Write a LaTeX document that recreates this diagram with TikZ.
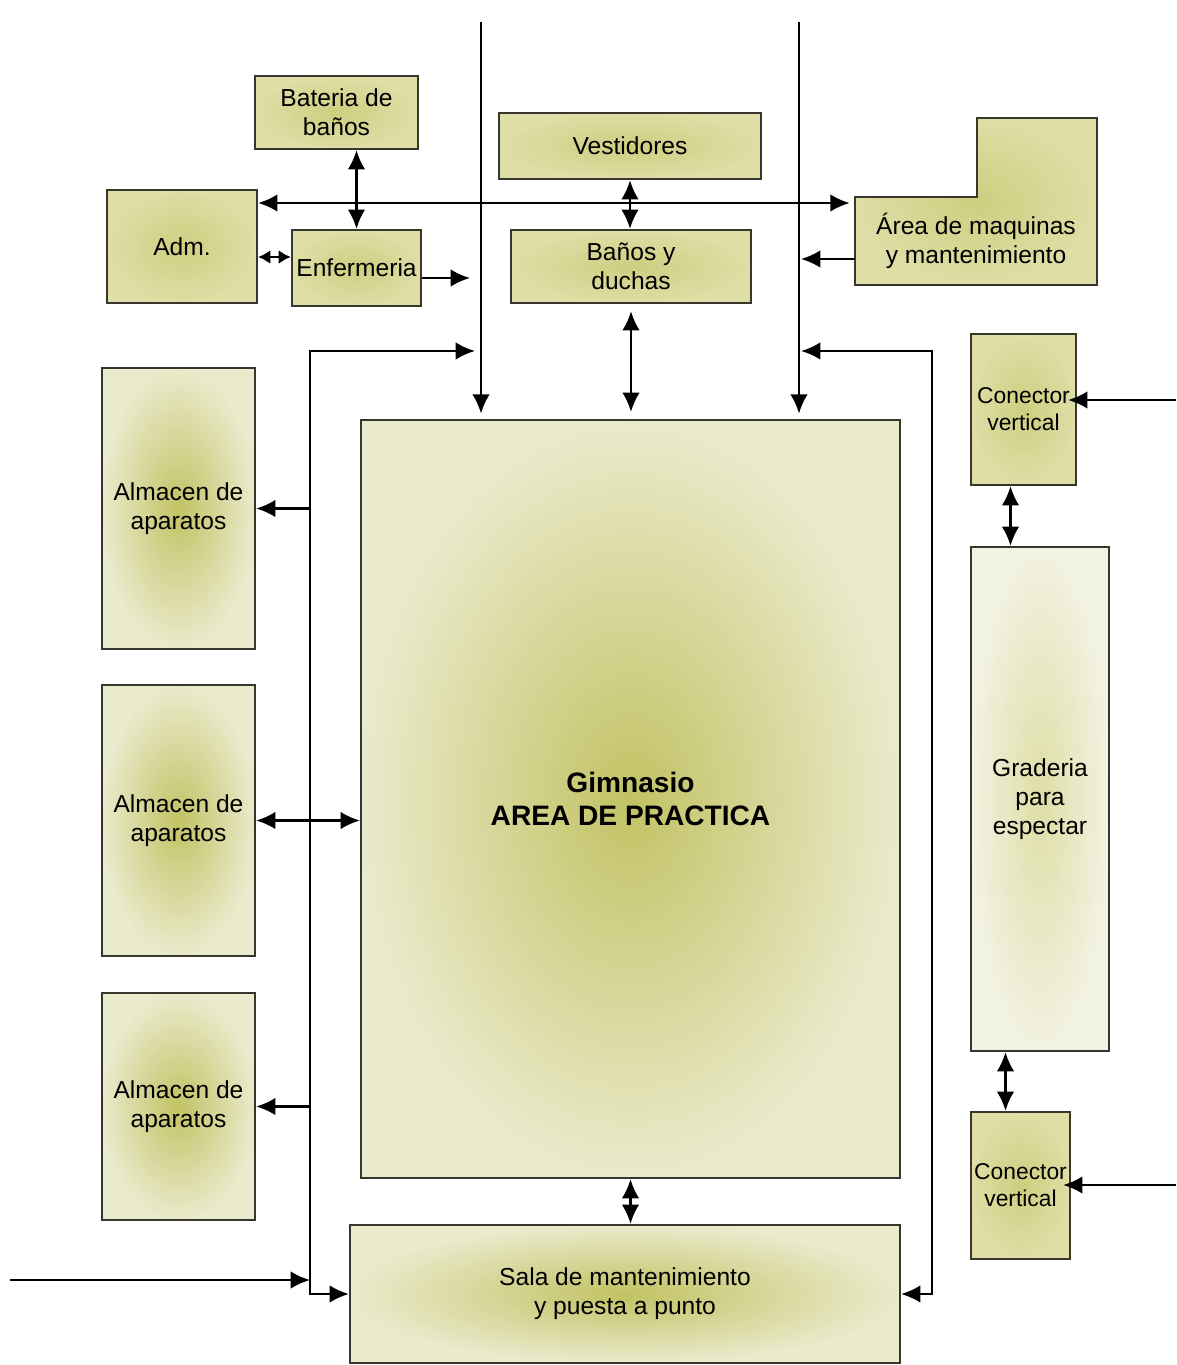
\documentclass[tikz,border=0pt]{standalone}
\usepackage{fontspec}
\setmainfont{Liberation Sans}
\definecolor{olvdark}{RGB}{194,194,100}
\definecolor{olvmid}{RGB}{206,206,128}
\definecolor{olvlight}{RGB}{222,222,166}
\definecolor{olvpale}{RGB}{234,234,204}
\definecolor{gradpale}{RGB}{242,242,226}
\definecolor{roomedge}{RGB}{55,55,45}
\usetikzlibrary{arrows.meta,calc}

\begin{document}
\begin{tikzpicture}[x=0.02cm,y=-0.02cm,
  room/.style={draw=roomedge, line width=1.3pt, inner sep=1pt, align=center,
    font=\fontsize{14}{16.5}\selectfont, shading=radial, inner color=olvdark, outer color=olvpale},
  smallroom/.style={inner color=olvmid, outer color=olvlight},
  arr/.style={-{Latex[length=11pt,width=10pt]}, line width=1.4pt},
  dbl/.style={{Latex[length=11pt,width=10pt]}-{Latex[length=11pt,width=10pt]}, line width=1.4pt},
  dblshort/.style={{Latex[length=7pt,width=8pt]}-{Latex[length=7pt,width=8pt]}, line width=1.4pt}]
  \useasboundingbox (0,0) rectangle (1176,1365);
  % Top rooms
  \node[room, smallroom, minimum width=3.26cm, minimum height=1.46cm] (bat) at (336.5,112.5) {Bateria de\\baños};
  \node[room, smallroom, minimum width=3.0cm, minimum height=2.26cm] (adm) at (182,246.5) {Adm.};
  \node[room, smallroom, minimum width=2.58cm, minimum height=1.52cm] (enf) at (356.5,268) {Enfermeria};
  \node[room, smallroom, minimum width=5.24cm, minimum height=1.32cm] (vest) at (630,146) {Vestidores};
  \node[room, smallroom, minimum width=4.8cm, minimum height=1.46cm] (banos) at (631,266.5) {Baños y\\duchas};
  % Area de maquinas (L shape)
  \draw[room, smallroom] (855,197) -- (977,197) -- (977,118) -- (1097,118) -- (1097,285) -- (855,285) -- cycle;
  \node[font=\fontsize{14}{16.5}\selectfont, align=center, minimum width=4.84cm, minimum height=1.76cm] (maq) at (976,241) {Área de maquinas\\y mantenimiento};
  % Left storage rooms
  \node[room, minimum width=3.06cm, minimum height=5.62cm] (alm1) at (178.5,508.5) {Almacen de\\aparatos};
  \node[room, minimum width=3.06cm, minimum height=5.42cm] (alm2) at (178.5,820.5) {Almacen de\\aparatos};
  \node[room, minimum width=3.06cm, minimum height=4.54cm] (alm3) at (178.5,1106.5) {Almacen de\\aparatos};
  % Main area
  \node[room, minimum width=10.78cm, minimum height=15.16cm, font=\fontsize{16}{19}\selectfont\bfseries] (gym) at (630.5,799) {Gimnasio\\AREA DE PRACTICA};
  \node[room, minimum width=11.0cm, minimum height=2.76cm] (sala) at (625,1294) {Sala de mantenimiento\\y puesta a punto};
  % Right side
  \node[room, smallroom, minimum width=2.1cm, minimum height=3.02cm, font=\fontsize{13}{15.5}\selectfont] (con1) at (1023.5,409.5) {Conector\\vertical};
  \node[room, inner color=olvlight, outer color=gradpale, minimum width=2.76cm, minimum height=10.08cm] (grad) at (1040,799) {Graderia\\para\\espectar};
  \node[room, smallroom, minimum width=1.98cm, minimum height=2.94cm, font=\fontsize{13}{15.5}\selectfont] (con2) at (1020.5,1185.5) {Conector\\vertical};
  % Free ends
  \coordinate (vlt) at (481,22);
  \coordinate (vrt) at (799,22);
  \coordinate (lp) at (310,351);
  \coordinate (rp) at (932,351);
  \coordinate (inl) at (10,1280);
  \coordinate (inr1) at (1176,400);
  \coordinate (inr2) at (1176,1185);
  % Corridors
  \draw[arr, shorten >=3pt] (vlt) -- (vlt |- gym.north);
  \draw[arr, shorten >=3pt] (vrt) -- (vrt |- gym.north);
  \draw[dbl, shorten >=0.12cm] (sala.west) -| (lp) -- (lp -| vlt);
  \draw[dbl, shorten >=0.04cm] (sala.east) -| (rp) -- (rp -| vrt);
  \draw[arr] (lp |- alm1.east) -- (alm1.east);
  \draw[arr] (lp |- alm3.east) -- (alm3.east);
  \draw[arr] (inl) -- (inl -| lp);
  % Links between rooms
  \draw[dbl] (bat.south -| enf.north) -- (enf.north);
  \draw[dblshort] ([yshift=0.22cm]enf.west) -- ([yshift=0.22cm]enf.west -| adm.east);
  \draw[dbl, shorten >=0.1cm] ([yshift=0.87cm]adm.east) -- ([yshift=0.87cm]adm.east -| maq.west);
  \draw[arr, shorten >=0.22cm] ([yshift=-0.2cm]enf.east) -- ([yshift=-0.2cm]enf.east -| vlt);
  \draw[dbl] (vest.south) -- (vest.south |- banos.north);
  \draw[arr, shorten >=0.04cm] ([yshift=-0.36cm]maq.west) -- ([yshift=-0.36cm]maq.west -| vrt);
  \draw[dbl, shorten <=0.14cm, shorten >=0.14cm] (banos.south) -- (banos.south |- gym.north);
  \draw[dbl] (alm2.east) -- (alm2.east -| gym.west);
  \draw[dbl] (gym.south) -- (gym.south |- sala.north);
  \draw[dbl] ([xshift=-0.26cm]con1.south) -- ([xshift=-0.26cm]con1.south |- grad.north);
  \draw[dbl] ([xshift=-0.3cm]con2.north) -- ([xshift=-0.3cm]con2.north |- grad.south);
  \draw[arr] (inr1) -- ([xshift=-0.18cm]con1.east |- inr1);
  \draw[arr] (inr2) -- ([xshift=-0.16cm]con2.east |- inr2);
\end{tikzpicture}
\end{document}
